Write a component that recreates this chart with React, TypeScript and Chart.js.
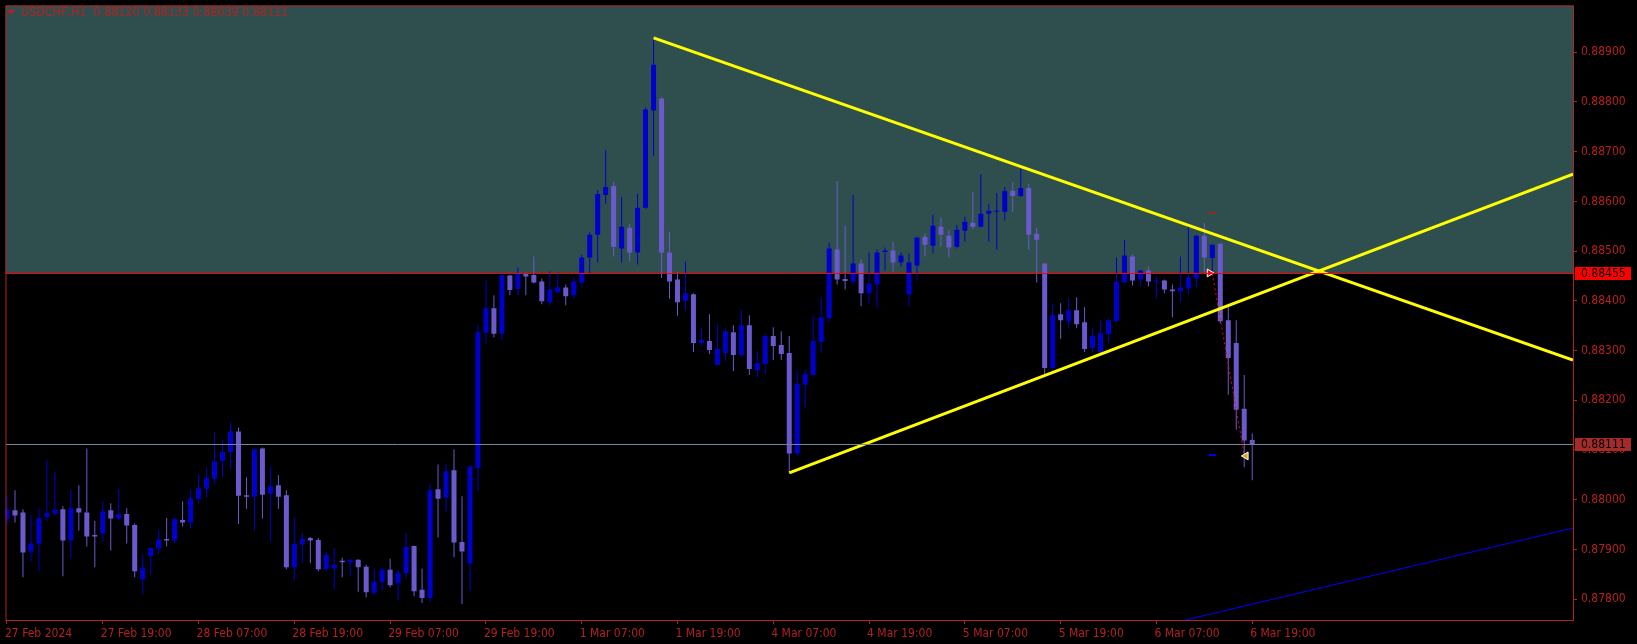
import React, { useEffect, useRef } from "react";
import { Chart, registerables } from "chart.js";

Chart.register(...registerables);

const SYMBOL = "USDCHF,H1";

const opens = [
  0.87960,0.87979,0.87974,0.87896,0.87912,0.87965,0.87972,0.87981,0.87918,0.87983,
  0.87974,0.87929,0.87932,0.87979,0.87962,0.87971,0.87949,0.87840,0.87886,0.87902,
  0.87921,0.87918,0.87959,0.87954,0.88002,0.88022,0.88042,0.88078,0.88096,0.88137,
  0.88009,0.88006,0.88103,0.88012,0.88029,0.88009,0.87864,0.87910,0.87923,0.87919,
  0.87860,0.87862,0.87877,0.87874,0.87879,0.87865,0.87812,0.87834,0.87859,0.87832,
  0.87852,0.87907,0.87819,0.87802,0.88021,0.88004,0.88059,0.87915,0.87872,0.88064,
  0.88336,0.88385,0.88334,0.88451,0.88424,0.88455,0.88452,0.88439,0.88397,0.88417,
  0.88427,0.88411,0.88437,0.88487,0.88533,0.88613,0.88631,0.88505,0.88547,0.88497,
  0.88587,0.88783,0.88807,0.88497,0.88443,0.88400,0.88413,0.88315,0.88319,0.88271,
  0.88295,0.88337,0.88291,0.88351,0.88261,0.88273,0.88329,0.88311,0.88295,0.88093,
  0.88231,0.88251,0.88317,0.88365,0.88503,0.88444,0.88439,0.88475,0.88415,0.88433,
  0.88498,0.88501,0.88477,0.88413,0.88471,0.88529,0.88511,0.88549,0.88531,0.88509,
  0.88541,0.88557,0.88549,0.88575,0.88579,0.88579,0.88621,0.88611,0.88627,0.88535,
  0.88475,0.88265,0.88373,0.88359,0.88381,0.88357,0.88305,0.88295,0.88333,0.88359,
  0.88437,0.88489,0.88443,0.88461,0.88439,0.88441,0.88423,0.88419,0.88425,0.88445,
  0.88531,0.88486,0.88515,0.88361,0.88315,0.88183,0.88120,
];

const highs = [
  0.88008,0.88019,0.87981,0.87969,0.87983,0.88079,0.88055,0.87987,0.88021,0.88029,
  0.88103,0.87957,0.87997,0.87993,0.88021,0.87983,0.87952,0.87889,0.87905,0.87939,
  0.87963,0.87964,0.87997,0.88021,0.88051,0.88063,0.88135,0.88121,0.88156,0.88145,
  0.88045,0.88104,0.88105,0.88067,0.88049,0.88019,0.87964,0.87933,0.87925,0.87923,
  0.87895,0.87903,0.87883,0.87880,0.87880,0.87869,0.87861,0.87864,0.87881,0.87859,
  0.87933,0.87908,0.87861,0.88032,0.88071,0.88071,0.88101,0.88007,0.88069,0.88352,
  0.88441,0.88411,0.88453,0.88452,0.88467,0.88457,0.88489,0.88445,0.88459,0.88457,
  0.88433,0.88447,0.88493,0.88539,0.88623,0.88703,0.88639,0.88609,0.88555,0.88615,
  0.88789,0.88929,0.88809,0.88539,0.88457,0.88479,0.88415,0.88345,0.88373,0.88355,
  0.88345,0.88351,0.88381,0.88371,0.88299,0.88335,0.88347,0.88339,0.88329,0.88259,
  0.88263,0.88371,0.88407,0.88517,0.88641,0.88551,0.88613,0.88483,0.88497,0.88503,
  0.88507,0.88519,0.88497,0.88495,0.88529,0.88535,0.88573,0.88567,0.88543,0.88553,
  0.88569,0.88619,0.88655,0.88595,0.88617,0.88629,0.88639,0.88665,0.88635,0.88547,
  0.88475,0.88395,0.88395,0.88405,0.88407,0.88387,0.88345,0.88361,0.88365,0.88487,
  0.88523,0.88493,0.88462,0.88469,0.88449,0.88443,0.88433,0.88489,0.88555,0.88533,
  0.88557,0.88514,0.88516,0.88389,0.88361,0.88251,0.88133,
];

const lows = [
  0.87950,0.87954,0.87844,0.87876,0.87856,0.87956,0.87968,0.87846,0.87881,0.87938,
  0.87906,0.87864,0.87916,0.87898,0.87958,0.87912,0.87844,0.87810,0.87849,0.87890,
  0.87906,0.87912,0.87946,0.87942,0.87992,0.88005,0.88032,0.88046,0.88061,0.87951,
  0.87982,0.87938,0.87962,0.87916,0.87982,0.87860,0.87838,0.87872,0.87872,0.87856,
  0.87858,0.87820,0.87844,0.87846,0.87815,0.87804,0.87811,0.87817,0.87824,0.87798,
  0.87842,0.87806,0.87792,0.87794,0.87924,0.87976,0.87884,0.87790,0.87817,0.88018,
  0.88314,0.88326,0.88321,0.88411,0.88411,0.88411,0.88435,0.88393,0.88391,0.88415,
  0.88391,0.88403,0.88427,0.88453,0.88477,0.88595,0.88489,0.88477,0.88479,0.88473,
  0.88585,0.88691,0.88446,0.88404,0.88370,0.88380,0.88297,0.88309,0.88293,0.88271,
  0.88279,0.88259,0.88287,0.88251,0.88247,0.88253,0.88281,0.88281,0.88054,0.88087,
  0.88183,0.88249,0.88295,0.88357,0.88433,0.88423,0.88433,0.88389,0.88395,0.88385,
  0.88461,0.88459,0.88469,0.88389,0.88441,0.88489,0.88495,0.88509,0.88487,0.88505,
  0.88519,0.88545,0.88548,0.88519,0.88503,0.88561,0.88579,0.88609,0.88503,0.88437,
  0.88253,0.88257,0.88323,0.88345,0.88345,0.88297,0.88297,0.88291,0.88315,0.88358,
  0.88436,0.88431,0.88431,0.88429,0.88405,0.88415,0.88367,0.88397,0.88413,0.88427,
  0.88457,0.88450,0.88355,0.88211,0.88141,0.88065,0.88039,
];

const closes = [
  0.87981,0.87968,0.87894,0.87912,0.87963,0.87973,0.87980,0.87918,0.87983,0.87974,
  0.87926,0.87926,0.87976,0.87962,0.87971,0.87948,0.87856,0.87863,0.87903,0.87920,
  0.87918,0.87961,0.87954,0.88003,0.88023,0.88043,0.88077,0.88096,0.88137,0.88008,
  0.88006,0.88101,0.88010,0.88027,0.88006,0.87864,0.87911,0.87921,0.87918,0.87860,
  0.87889,0.87869,0.87874,0.87879,0.87864,0.87814,0.87835,0.87859,0.87828,0.87853,
  0.87905,0.87816,0.87802,0.88019,0.88002,0.88057,0.87914,0.87896,0.88067,0.88337,
  0.88385,0.88334,0.88452,0.88422,0.88455,0.88449,0.88437,0.88399,0.88423,0.88427,
  0.88409,0.88439,0.88487,0.88533,0.88615,0.88629,0.88509,0.88549,0.88497,0.88587,
  0.88785,0.88875,0.88497,0.88439,0.88397,0.88415,0.88315,0.88321,0.88301,0.88303,
  0.88339,0.88291,0.88351,0.88263,0.88275,0.88329,0.88309,0.88293,0.88093,0.88233,
  0.88253,0.88319,0.88367,0.88505,0.88443,0.88440,0.88475,0.88415,0.88435,0.88497,
  0.88501,0.88477,0.88491,0.88477,0.88527,0.88513,0.88551,0.88533,0.88507,0.88543,
  0.88559,0.88549,0.88575,0.88581,0.88581,0.88621,0.88611,0.88627,0.88533,0.88523,
  0.88265,0.88371,0.88361,0.88381,0.88353,0.88303,0.88329,0.88335,0.88361,0.88439,
  0.88491,0.88441,0.88461,0.88439,0.88441,0.88423,0.88419,0.88427,0.88447,0.88531,
  0.88487,0.88513,0.88359,0.88285,0.88181,0.88119,0.88111,
];

const xTickIndex = [0, 12, 24, 36, 48, 60, 72, 84, 96, 108, 120, 132, 144, 156];
const xTickLabels = [
  "27 Feb 2024", "27 Feb 19:00", "28 Feb 07:00", "28 Feb 19:00", "29 Feb 07:00",
  "29 Feb 19:00", "1 Mar 07:00", "1 Mar 19:00", "4 Mar 07:00", "4 Mar 19:00",
  "5 Mar 07:00", "5 Mar 19:00", "6 Mar 07:00", "6 Mar 19:00",
];
const yTicks = [0.878, 0.879, 0.88, 0.881, 0.882, 0.883, 0.884, 0.885, 0.886, 0.887, 0.888, 0.889];

const X_MIN = -0.1875;
const X_MAX = 196.1875;
const Y_MIN = 0.87758;
const Y_MAX = 0.88994;

const zoneLevel = 0.88455;
const bidLevel = 0.88111;
const downTrend = [{ x: 81, y: 0.88929 }, { x: X_MAX, y: 0.88281 }];
const upTrend = [{ x: 98, y: 0.88054 }, { x: X_MAX, y: 0.88655 }];
const channelLine = [{ x: 140, y: 0.87729 }, { x: X_MAX, y: 0.87943 }];
const tradePath = [{ x: 151, y: 0.88455 }, { x: 155, y: 0.8809 }];
const tradeEntry = [{ x: 150.65, y: 0.88456 }];
const tradeExit = [{ x: 155.2, y: 0.88088 }];
const stopLoss = [{ x: 150.55, y: 0.88576 }, { x: 151.45, y: 0.88576 }];
const takeProfit = [{ x: 150.55, y: 0.8809 }, { x: 151.45, y: 0.8809 }];

const BULL = "#0000CD";
const BEAR = "#6A5ACD";
const FIRE = "#B22222";
const FONT = "'DejaVu Sans Condensed', 'DejaVu Sans', sans-serif";

const idx = opens.map((_, i) => i);
const candleColors = idx.map((i) => (closes[i] >= opens[i] ? BULL : BEAR));

const mt4Plugin = {
  id: "mt4",
  beforeDraw(chart: any) {
    const { ctx, width, height } = chart;
    ctx.save();
    ctx.fillStyle = "#000";
    ctx.fillRect(0, 0, width, height);
    ctx.restore();
  },
  beforeDatasetsDraw(chart: any) {
    const { ctx, chartArea, scales } = chart;
    const yz = scales.y.getPixelForValue(zoneLevel);
    ctx.save();
    ctx.fillStyle = "#2F4F4F";
    ctx.fillRect(chartArea.left, chartArea.top, chartArea.right - chartArea.left, yz - chartArea.top);
    ctx.restore();
  },
  afterDraw(chart: any) {
    const { ctx, chartArea, scales } = chart;
    ctx.save();
    ctx.strokeStyle = FIRE;
    ctx.lineWidth = 1;
    ctx.strokeRect(chartArea.left + 0.5, chartArea.top + 0.5, chartArea.right - chartArea.left, chartArea.bottom - chartArea.top);
    const box = (v: number, bg: string) => {
      const y = scales.y.getPixelForValue(v);
      const top = Math.round(y - 6);
      ctx.fillStyle = bg;
      ctx.fillRect(chartArea.right + 2, top, 56, 13);
      ctx.fillStyle = "#000";
      ctx.font = `12px ${FONT}`;
      ctx.textBaseline = "middle";
      ctx.textAlign = "left";
      ctx.fillText(v.toFixed(5), chartArea.right + 8, top + 7);
    };
    box(zoneLevel, "#FF0000");
    box(bidLevel, "#A52A2A");
    const n = opens.length - 1;
    ctx.fillStyle = FIRE;
    ctx.beginPath();
    ctx.moveTo(7, 10);
    ctx.lineTo(15, 10);
    ctx.lineTo(11, 15);
    ctx.closePath();
    ctx.fill();
    ctx.font = `12.4px ${FONT}`;
    ctx.textBaseline = "middle";
    ctx.textAlign = "left";
    const title = `${SYMBOL}  ${opens[n].toFixed(5)} ${highs[n].toFixed(5)} ${lows[n].toFixed(5)} ${closes[n].toFixed(5)}`;
    ctx.fillText(title, 21, 13);
    ctx.restore();
  },
};

export default function App() {
  const ref = useRef<HTMLCanvasElement>(null);
  useEffect(() => {
    document.body.style.margin = "0";
    document.body.style.background = "#000";
    const lineDs = (data: any[], color: string, width: number, extra: any = {}) => ({
      type: "line" as const,
      data,
      borderColor: color,
      borderWidth: width,
      pointRadius: 0,
      fill: false,
      tension: 0,
      order: 0,
      ...extra,
    });
    const chart = new Chart(ref.current as HTMLCanvasElement, {
      type: "bar",
      data: {
        datasets: [
          {
            type: "bar",
            data: idx.map((i) => ({ x: i, y: [lows[i], highs[i]] })),
            backgroundColor: candleColors,
            barThickness: 1,
            grouped: false,
            inflateAmount: 0,
            minBarLength: 1,
            order: 3,
          } as any,
          {
            type: "bar",
            data: idx.map((i) => ({ x: i, y: [opens[i], closes[i]] })),
            backgroundColor: candleColors,
            barThickness: 5,
            grouped: false,
            inflateAmount: 0,
            minBarLength: 1,
            order: 2,
          } as any,
          lineDs([{ x: X_MIN, y: zoneLevel }, { x: X_MAX, y: zoneLevel }], "#FF0000", 1),
          lineDs([{ x: X_MIN, y: bidLevel }, { x: X_MAX, y: bidLevel }], "#778899", 1),
          lineDs(downTrend, "#FFFF00", 3),
          lineDs(upTrend, "#FFFF00", 3),
          lineDs(channelLine, "#0000FF", 1),
          lineDs(tradePath, "#FF0000", 1, { borderDash: [2, 3] }),
          lineDs(stopLoss, "#FF0000", 1),
          lineDs(takeProfit, "#0000FF", 2),
          {
            type: "scatter",
            data: tradeEntry,
            pointStyle: "triangle",
            rotation: 90,
            pointRadius: 4.5,
            backgroundColor: "#FF0000",
            borderColor: "#FFFFFF",
            borderWidth: 1,
            order: 0,
          } as any,
          {
            type: "scatter",
            data: tradeExit,
            pointStyle: "triangle",
            rotation: -90,
            pointRadius: 4.5,
            backgroundColor: "#DAA520",
            borderColor: "#FFFFFF",
            borderWidth: 1,
            order: 0,
          } as any,
        ],
      },
      options: {
        animation: false,
        responsive: false,
        maintainAspectRatio: false,
        devicePixelRatio: 1,
        layout: { padding: { left: 2, top: 2, right: 0, bottom: 0 } },
        plugins: {
          legend: { display: false },
          tooltip: { enabled: false },
          title: { display: false },
        },
        events: [],
        scales: {
          x: {
            type: "linear",
            min: X_MIN,
            max: X_MAX,
            offset: false,
            border: { display: false },
            grid: { display: true, drawOnChartArea: false, drawTicks: true, tickLength: 4, color: FIRE, offset: false },
            ticks: {
              align: "start",
              maxRotation: 0,
              minRotation: 0,
              autoSkip: false,
              color: FIRE,
              padding: 3,
              labelOffset: -2,
              font: { family: FONT, size: 12 },
              callback: (v: any) => {
                const k = xTickIndex.indexOf(Number(v));
                return k >= 0 ? xTickLabels[k] : "";
              },
            },
            afterBuildTicks: (s: any) => {
              s.ticks = xTickIndex.map((v) => ({ value: v }));
            },
            afterFit: (s: any) => {
              s.height = 24;
              s.paddingLeft = 0;
              s.paddingRight = 0;
            },
          } as any,
          y: {
            type: "linear",
            position: "right",
            min: Y_MIN,
            max: Y_MAX,
            border: { display: false },
            grid: { display: true, drawOnChartArea: false, drawTicks: true, tickLength: 4, color: FIRE },
            ticks: {
              color: FIRE,
              padding: 4,
              font: { family: FONT, size: 12 },
              callback: (v: any) => Number(v).toFixed(5),
            },
            afterBuildTicks: (s: any) => {
              s.ticks = yTicks.map((v) => ({ value: v }));
            },
            afterFit: (s: any) => {
              s.width = 64;
              s.paddingTop = 0;
              s.paddingBottom = 0;
            },
          } as any,
        },
      },
      plugins: [mt4Plugin],
    } as any);
    return () => chart.destroy();
  }, []);
  return (
    <div style={{ width: 1637, height: 644, background: "#000" }}>
      <canvas ref={ref} width={1637} height={644} style={{ display: "block", width: 1637, height: 644 }} />
    </div>
  );
}
